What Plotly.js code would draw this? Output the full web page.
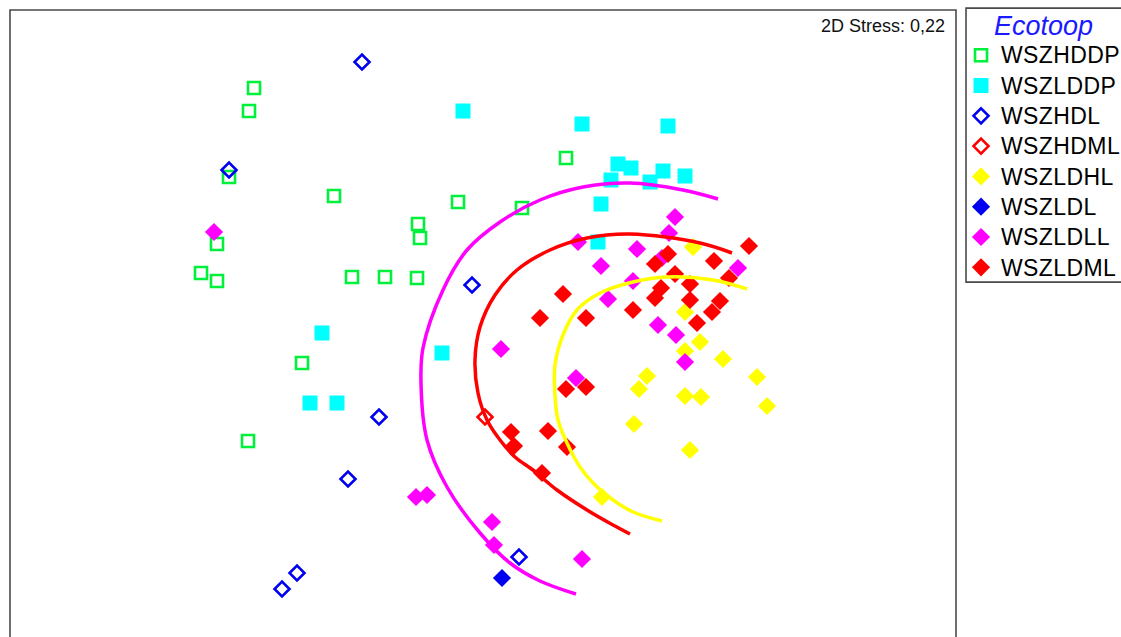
<!DOCTYPE html>
<html><head><meta charset="utf-8">
<script src="https://cdn.plot.ly/plotly-3.0.1.min.js"></script>
<style>html,body{margin:0;padding:0;background:#fff;overflow:hidden}</style>
</head><body><div id="chart" style="width:1121px;height:637px"></div>
<script>
// NMDS ordination scores (axis units, no ticks shown)
const groups = ['WSZHDDP','WSZLDDP','WSZHDL','WSZHDML','WSZLDHL','WSZLDL','WSZLDLL','WSZLDML'];

const wszhddpX = [254,249,229,217,201,217,334,418,420,458,352,385,417,522,566,302,248];
const wszhddpY = [88,111,177,244,273,281,196,224,238,202,277,277,278,208,158,363,441];

const wszlddpX = [463,582,668,618,631,611,650,663,685,601,598,442,322,310,337];
const wszlddpY = [111,124,126,164,168,180,182,171,176,204,242,353,333,403,403];

const wszhdlX = [362,229,472,379,348,297,282,519];
const wszhdlY = [62,170,285,417,479,573,589,557];

const wszhdmlX = [485];
const wszhdmlY = [417];

const wszldhlX = [693,685,700,685,723,647,639,685,701,757,767,634,690,602];
const wszldhlY = [247,312,342,351,359,376,389,396,397,377,406,424,450,497];

const wszldlX = [502];
const wszldlY = [578];

const wszldllX = [214,416,427,492,494,582,501,576,578,675,669,637,601,662,738,633,608,658,676,685];
const wszldllY = [232,497,495,522,545,559,349,378,242,217,233,249,266,258,268,281,299,325,335,362];

const wszldmlX = [749,668,655,714,729,675,690,661,655,690,720,712,697,633,563,540,586,566,586,511,514,548,567,542];
const wszldmlY = [246,254,264,261,278,274,284,288,298,300,301,312,323,310,294,318,318,389,387,432,446,431,447,473];

// group envelope arcs
const arcLLX = [718,683,630,583,540,500,467,443,423,421,427,447,480,510,540,576];
const arcLLY = [199,190,183,187,200,222,250,290,348,383,440,487,533,563,581,594];
const arcMLX = [732,700,630,587,550,517,495,480,475,478,487,500,515,533,557,587,613,630];
const arcMLY = [253,243,234,238,250,270,295,327,360,393,420,440,457,470,490,510,525,534];
const arcHLX = [747,713,667,633,600,577,563,555,555,558,567,580,595,613,633,662];
const arcHLY = [289,280,277,282,293,310,335,365,395,420,443,467,485,500,512,521];

const stressText = '2D Stress: 0,22';
const legendTitle = 'Ecotoop';

function label(s) {
  return '<span style="font-size:23px;letter-spacing:0.4px">' + s + '</span>';
}
function pts(name, x, y, marker) {
  return {type:'scatter', mode:'markers', name:label(name), x:x, y:y, marker:marker, hoverinfo:'name'};
}
function arc(x, y, color) {
  return {type:'scatter', mode:'lines', x:x, y:y, showlegend:false, hoverinfo:'skip',
          line:{color:color, width:3.5, shape:'spline', smoothing:1}};
}

const data = [
  pts(groups[0], wszhddpX, wszhddpY, {symbol:'square-open', size:12, color:'#00f03c', line:{width:2.6}}),
  pts(groups[1], wszlddpX, wszlddpY, {symbol:'square', size:15, color:'#00ffff', line:{width:0}}),
  pts(groups[2], wszhdlX, wszhdlY, {symbol:'diamond-open', size:11.5, color:'#0000f0', line:{width:2.6}}),
  pts(groups[3], wszhdmlX, wszhdmlY, {symbol:'diamond-open', size:11.5, color:'#ff0000', line:{width:2.6}}),
  pts(groups[4], wszldhlX, wszldhlY, {symbol:'diamond', size:14, color:'#ffff00', line:{width:0}}),
  pts(groups[5], wszldlX, wszldlY, {symbol:'diamond', size:14, color:'#0000f0', line:{width:0}}),
  pts(groups[6], wszldllX, wszldllY, {symbol:'diamond', size:14, color:'#ff00ff', line:{width:0}}),
  pts(groups[7], wszldmlX, wszldmlY, {symbol:'diamond', size:14, color:'#ff0000', line:{width:0}}),
  arc(arcLLX, arcLLY, '#ff00ff'),
  arc(arcMLX, arcMLY, '#ff0000'),
  arc(arcHLX, arcHLY, '#ffff00')
];

const layout = {
  width:1121, height:637,
  margin:{l:10, r:165, t:10, b:0, pad:0, autoexpand:false},
  paper_bgcolor:'#ffffff', plot_bgcolor:'#ffffff',
  font:{family:'Arial, Liberation Sans, sans-serif', color:'#000'},
  xaxis:{range:[10,956], showgrid:false, zeroline:false, showticklabels:false, ticks:'', showline:false, fixedrange:true},
  yaxis:{range:[637,10], showgrid:false, zeroline:false, showticklabels:false, ticks:'', showline:false, fixedrange:true},
  showlegend:true,
  legend:{
    x:1.0053, xanchor:'left', y:1.016, yanchor:'top',
    bgcolor:'rgba(0,0,0,0)', borderwidth:0,
    font:{size:21, family:'Arial, Liberation Sans, sans-serif', color:'#000'},
    title:{text:legendTitle, side:'top center', font:{size:27, style:'italic', color:'#1a1aff', family:'Arial, Liberation Sans, sans-serif'}},
    itemwidth:30, tracegroupgap:0
  },
  shapes:[
    {type:'rect', xref:'paper', yref:'paper', x0:0, x1:1, y0:-0.2, y1:1, line:{color:'#4a4a4a', width:1.6}, layer:'above'},
    {type:'rect', xref:'paper', yref:'paper', x0:1.0106, x1:1.25, y0:0.566, y1:1.003, line:{color:'#4a4a4a', width:1.6}, layer:'above'}
  ],
  annotations:[
    {text:stressText, xref:'paper', yref:'paper', x:0.9905, y:0.9745, xanchor:'right', yanchor:'middle',
     showarrow:false, font:{size:18, color:'#111'}}
  ]
};

Plotly.newPlot('chart', data, layout, {displayModeBar:false, staticPlot:true});
</script></body></html>
